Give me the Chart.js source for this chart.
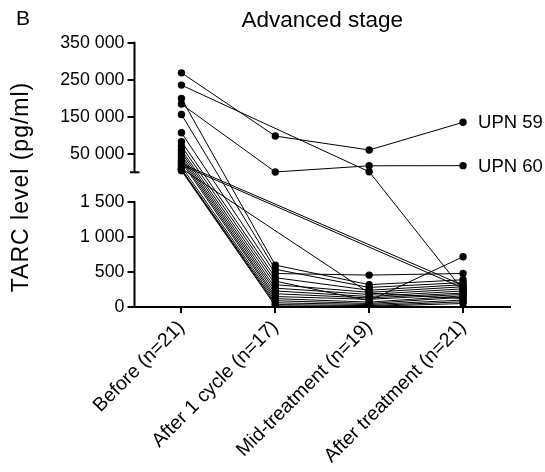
<!DOCTYPE html>
<html><head><meta charset="utf-8">
<script src="https://cdn.jsdelivr.net/npm/chart.js@4/dist/chart.umd.min.js"></script>
<style>html,body{margin:0;padding:0;background:#fff;}</style>
</head><body>
<canvas id="c" width="545" height="472"></canvas>
<script>
// ---- data ----
const categories = ['Before (n=21)', 'After 1 cycle (n=17)', 'Mid-treatment (n=19)', 'After treatment (n=21)'];
const patientNames = ['UPN 59', '', 'UPN 60', '', '', '', '', '', '', '', '', '', '', '', '', '', '', '', '', '', ''];
const beforeVals = [269000, 236000, 185000, 200000, 157000, 108000, 84000, 72000, 62000, 55000, 48000, 42000, 36000, 30000, 25000, 21000, 12000, 17000, 10000, 8000, 6000];
const after1Vals = [99000, null, 2400, 600, 540, 480, 420, 370, 320, 270, 230, 190, 150, 120, null, null, null, 90, 60, 35, 15];
const midVals    = [61500, 3000, 19000, 320, 280, 457, 240, 90, 210, 180, 150, 130, 110, 70, null, null, 200, 50, 35, 20, 10];
const afterVals  = [136000, 240, 19400, 390, 350, 480, 320, 720, 290, 260, 230, 200, 180, 160, 310, 270, 120, 140, 100, 75, 50];
const yTickValues = [0, 500, 1000, 1500, 50000, 150000, 250000, 350000];
const yTickLabels = ['0', '500', '1 000', '1 500', '50 000', '150 000', '250 000', '350 000'];
const breakLow = 1500;
const axisMax = 350000;

// ---- broken axis layout (fractions of the plot height) ----
const BOTTOM_FRAC = 0.3961;
const TOP_START = 0.5096;

class BrokenScale extends Chart.LinearScale {
  buildTicks() { return yTickValues.map(v => ({ value: v })); }
  toDecimal(v) {
    if (v <= breakLow) return v / breakLow * BOTTOM_FRAC;
    return TOP_START + (v - breakLow) / (axisMax - breakLow) * (1 - TOP_START);
  }
  getPixelForValue(v) {
    if (v === null || v === undefined || isNaN(v)) return NaN;
    return this.getPixelForDecimal(this.toDecimal(v));
  }
  getValueForPixel(p) {
    const d = this.getDecimalForPixel(p);
    if (d <= BOTTOM_FRAC) return d / BOTTOM_FRAC * breakLow;
    return breakLow + (d - TOP_START) / (1 - TOP_START) * (axisMax - breakLow);
  }
}
BrokenScale.id = 'broken';
BrokenScale.defaults = {};
Chart.register(BrokenScale);

const FONT = "'Liberation Sans', Arial, Helvetica, sans-serif";

const datasets = beforeVals.map((b, i) => ({
  label: patientNames[i],
  data: [b, after1Vals[i], midVals[i], afterVals[i]],
  borderColor: '#000',
  borderWidth: 1,
  backgroundColor: '#000',
  pointBackgroundColor: '#000',
  pointBorderWidth: 0,
  pointRadius: 3.7,
  spanGaps: true,
  tension: 0
}));

const decor = {
  id: 'decor',
  afterDraw(chart) {
    const ctx = chart.ctx, y = chart.scales.y, a = chart.chartArea;
    ctx.save();
    ctx.strokeStyle = '#000';
    ctx.lineWidth = 2;
    const x0 = a.left;
    ctx.beginPath();
    ctx.moveTo(x0, y.getPixelForValue(0) + 1);
    ctx.lineTo(x0, y.getPixelForValue(breakLow) - 1);
    ctx.stroke();
    const capY = y.getPixelForDecimal(TOP_START);
    ctx.beginPath();
    ctx.moveTo(x0, capY);
    ctx.lineTo(x0, y.getPixelForValue(axisMax) - 1);
    ctx.stroke();
    ctx.beginPath();
    ctx.moveTo(x0 - 4.5, capY);
    ctx.lineTo(x0 + 5, capY);
    ctx.stroke();

    ctx.fillStyle = '#000';
    // panel letter
    ctx.font = '21px ' + FONT;
    ctx.textAlign = 'left';
    ctx.textBaseline = 'alphabetic';
    ctx.fillText('B', 16, 25);
    // title
    ctx.font = '22.5px ' + FONT;
    ctx.textAlign = 'center';
    ctx.fillText('Advanced stage', (a.left + a.right) / 2, 26.5);
    // y-axis title
    ctx.save();
    ctx.translate(27.5, 187);
    ctx.rotate(-Math.PI / 2);
    ctx.font = '23px ' + FONT;
    try { ctx.letterSpacing = '1px'; } catch (e) {}
    ctx.textAlign = 'center';
    ctx.fillText('TARC level (pg/ml)', 0, 0);
    ctx.restore();
    // patient labels
    ctx.font = '18.5px ' + FONT;
    ctx.textAlign = 'left';
    ctx.textBaseline = 'middle';
    chart.data.datasets.forEach((ds, i) => {
      if (!ds.label) return;
      const pts = chart.getDatasetMeta(i).data;
      const p = pts[pts.length - 1];
      ctx.fillText(ds.label, p.x + 15, p.y + 1);
    });
    ctx.restore();
  }
};

new Chart(document.getElementById('c'), {
  type: 'line',
  data: { labels: categories, datasets },
  options: {
    responsive: false,
    animation: false,
    layout: { padding: { top: 42.7, right: 35, left: 0, bottom: 0 } },
    plugins: { legend: { display: false }, tooltip: { enabled: false }, title: { display: false } },
    scales: {
      x: {
        type: 'category',
        offset: true,
        grid: { display: true, drawOnChartArea: false, drawTicks: true, tickLength: 6, lineWidth: 2, color: '#000', offset: false },
        border: { display: true, color: '#000', width: 2 },
        ticks: { color: '#000', font: { family: FONT, size: 19.5 }, minRotation: 45, maxRotation: 45, autoSkip: false, padding: 3 },
        afterFit(s) { s.height = 165; }
      },
      y: {
        type: 'broken',
        min: 0,
        max: axisMax,
        grid: { drawOnChartArea: false, drawTicks: true, tickLength: 7, lineWidth: 2, color: '#000' },
        border: { display: false },
        ticks: { color: '#000', font: { family: FONT, size: 17.8 }, padding: 3, callback: (v, i) => yTickLabels[i] },
        afterFit(s) { s.width = 134.5; }
      }
    }
  },
  plugins: [decor]
});
</script>
</body></html>
